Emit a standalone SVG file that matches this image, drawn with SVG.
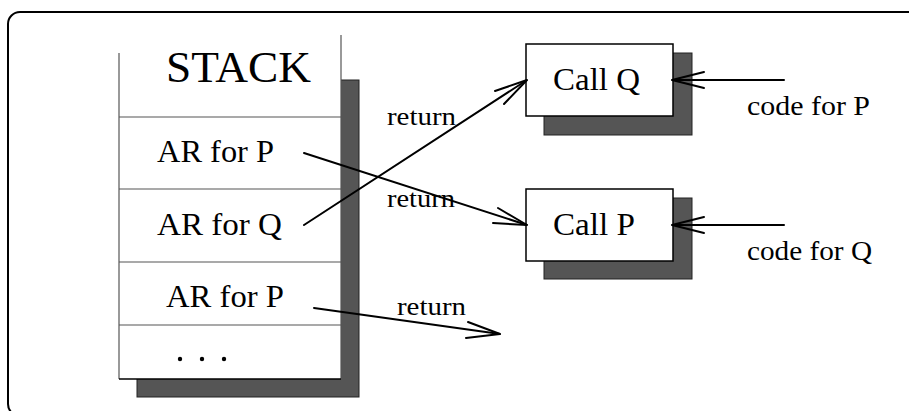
<svg xmlns="http://www.w3.org/2000/svg" width="909" height="411" viewBox="0 0 909 411">
  <defs>
    <style>
      text { font-family: "Liberation Serif", "Times New Roman", serif; fill: #000; }
      .big { font-size: 44px; }
      .ar { font-size: 31px; }
      .call { font-size: 32px; }
      .lbl { font-size: 26px; }
      .code { font-size: 27px; }
      .shadow { fill: #555; stroke: #222; stroke-width: 1; }
      .box { fill: #fff; stroke: #000; stroke-width: 1.5; }
      .div { stroke: #555; stroke-width: 1.2; fill: none; }
      .edge { stroke: #000; stroke-width: 2; fill: none; stroke-linecap: round; }
    </style>
  </defs>
  <rect width="909" height="411" fill="#fff"/>

  <!-- outer frame -->
  <rect x="8" y="12" width="1100" height="404" rx="12" ry="12" fill="none" stroke="#000" stroke-width="2"/>

  <!-- run-time stack -->
  <g id="stack">
    <rect class="shadow" x="137" y="80" width="222" height="317"/>
    <rect x="119" y="35" width="222" height="344" fill="#fff"/>
    <line x1="119" y1="53" x2="119" y2="379" stroke="#555" stroke-width="1.2"/>
    <line x1="341" y1="35" x2="341" y2="379" stroke="#555" stroke-width="1.2"/>
    <line x1="119" y1="379" x2="341" y2="379" stroke="#000" stroke-width="1.5"/>
    <line class="div" x1="119" y1="117" x2="341" y2="117"/>
    <line class="div" x1="119" y1="189" x2="341" y2="189"/>
    <line class="div" x1="119" y1="262" x2="341" y2="262"/>
    <line class="div" x1="119" y1="325" x2="341" y2="325"/>
    <text class="big" x="166" y="82" textLength="145" lengthAdjust="spacingAndGlyphs">STACK</text>
    <text class="ar" x="157" y="162" textLength="117" lengthAdjust="spacingAndGlyphs">AR for P</text>
    <text class="ar" x="157" y="235" textLength="125" lengthAdjust="spacingAndGlyphs">AR for Q</text>
    <text class="ar" x="166" y="307" textLength="118" lengthAdjust="spacingAndGlyphs">AR for P</text>
    <circle cx="180" cy="359" r="2.2" fill="#000"/>
    <circle cx="202" cy="359" r="2.2" fill="#000"/>
    <circle cx="224" cy="359" r="2.2" fill="#000"/>
  </g>

  <g id="callQ">
    <rect class="shadow" x="544" y="53" width="148" height="82"/>
    <rect class="box" x="526" y="44" width="147" height="72"/>
    <text class="call" x="553" y="90" textLength="87" lengthAdjust="spacingAndGlyphs">Call Q</text>
  </g>

  <g id="callP">
    <rect class="shadow" x="544" y="198" width="148" height="81"/>
    <rect class="box" x="526" y="189" width="147" height="72"/>
    <text class="call" x="553" y="235" textLength="82" lengthAdjust="spacingAndGlyphs">Call P</text>
  </g>

  <g id="codeP">
    <text class="code" x="747" y="115" textLength="123" lengthAdjust="spacingAndGlyphs">code for P</text>
  </g>
  <g id="codeQ">
    <text class="code" x="747" y="260" textLength="125" lengthAdjust="spacingAndGlyphs">code for Q</text>
  </g>

  <!-- connectors -->
  <g id="connectors">
    <!-- AR for Q returns into Call Q -->
    <line class="edge" x1="304" y1="225" x2="527" y2="80"/>
    <polyline class="edge" points="495,91 527,80 504,104"/>
    <!-- AR for P returns into Call P -->
    <line class="edge" x1="304" y1="153" x2="527" y2="225"/>
    <polyline class="edge" points="498,208 527,225 493,223"/>
    <!-- bottom AR for P returns outward -->
    <line class="edge" x1="314" y1="308" x2="500" y2="334"/>
    <polyline class="edge" points="468,322 500,334 466,338"/>
    <!-- code pointers -->
    <line class="edge" x1="784" y1="80" x2="672" y2="80"/>
    <polyline class="edge" points="704,72 672,80 704,88"/>
    <line class="edge" x1="784" y1="225" x2="672" y2="225"/>
    <polyline class="edge" points="704,217 672,225 704,233"/>
    <text class="lbl" x="387" y="125" textLength="69" lengthAdjust="spacingAndGlyphs">return</text>
    <text class="lbl" x="387" y="207" textLength="68" lengthAdjust="spacingAndGlyphs">return</text>
    <text class="lbl" x="397" y="315" textLength="69" lengthAdjust="spacingAndGlyphs">return</text>
  </g>
</svg>
